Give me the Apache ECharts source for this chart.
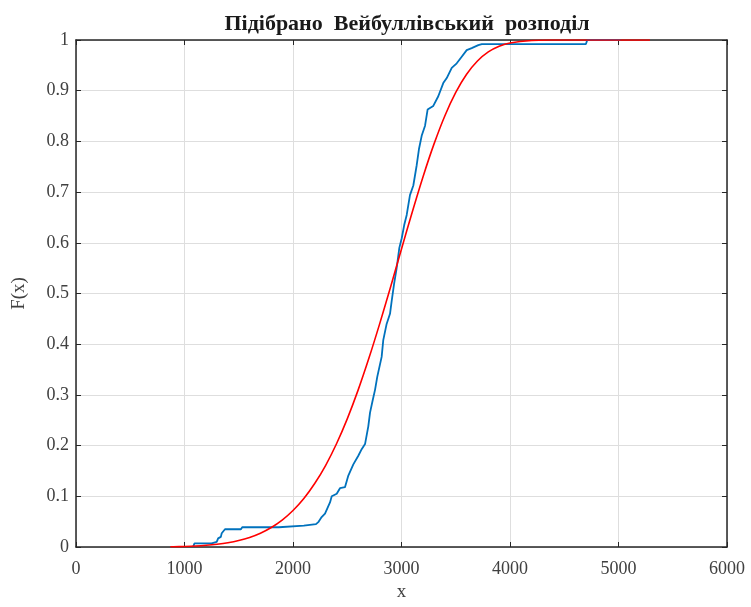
<!DOCTYPE html>
<html>
<head>
<meta charset="utf-8">
<script src="https://cdn.jsdelivr.net/npm/echarts@6/dist/echarts.min.js"></script>
<style>
  html, body { margin: 0; padding: 0; background: #fff; overflow: hidden; }
  #chart { width: 751px; height: 607px; }
</style>
</head>
<body>
<div id="chart"></div>
<script>
// Empirical CDF outline (x, F)
const empX = [1078, 1092, 1250, 1262, 1297, 1310, 1335, 1343, 1373, 1520, 1532, 1870, 1882, 2100, 2112, 2212, 2233, 2264, 2295, 2341, 2357, 2403, 2433, 2479, 2510, 2556, 2602, 2633, 2664, 2694, 2710, 2735, 2756, 2777, 2817, 2832, 2863, 2894, 2910, 2931, 2956, 2980, 3002, 3025, 3048, 3078, 3109, 3140, 3161, 3186, 3217, 3241, 3270, 3293, 3339, 3385, 3417, 3463, 3509, 3555, 3601, 3647, 3708, 3740, 4700, 4712, 5020];
const empF = [0, 0.007, 0.007, 0.010, 0.010, 0.017, 0.020, 0.027, 0.035, 0.035, 0.039, 0.039, 0.042, 0.042, 0.045, 0.045, 0.049, 0.059, 0.066, 0.088, 0.100, 0.105, 0.116, 0.118, 0.141, 0.163, 0.180, 0.193, 0.203, 0.238, 0.265, 0.290, 0.310, 0.336, 0.375, 0.408, 0.440, 0.460, 0.486, 0.518, 0.551, 0.590, 0.609, 0.635, 0.655, 0.694, 0.713, 0.753, 0.785, 0.811, 0.831, 0.863, 0.867, 0.870, 0.889, 0.915, 0.925, 0.945, 0.954, 0.967, 0.980, 0.984, 0.990, 0.992, 0.992, 1.0, 1.0];

// Fitted Weibull CDF (x, F)
const fitX = [870, 900, 1000, 1100, 1200, 1300, 1400, 1500, 1600, 1700, 1800, 1900, 2000, 2100, 2200, 2300, 2400, 2500, 2600, 2700, 2800, 2900, 3000, 3100, 3200, 3300, 3400, 3500, 3600, 3700, 3800, 3900, 4000, 4200, 4400, 4600, 5000, 5290];
const fitF = [0.0005, 0.0006, 0.0011, 0.0019, 0.0033, 0.0054, 0.0084, 0.0128, 0.0189, 0.0273, 0.0385, 0.0531, 0.0720, 0.0957, 0.1252, 0.1607, 0.2032, 0.2528, 0.3094, 0.3726, 0.4411, 0.5135, 0.5878, 0.6613, 0.7314, 0.7951, 0.8507, 0.8967, 0.9325, 0.9586, 0.9765, 0.9876, 0.9941, 0.9990, 0.9999, 1.0, 1.0, 1.0];

const xTicks = [0, 1000, 2000, 3000, 4000, 5000, 6000];
const yTicks = [0, 0.1, 0.2, 0.3, 0.4, 0.5, 0.6, 0.7, 0.8, 0.9, 1];

const titleText = 'Підібрано  Вейбуллівський  розподіл';
const xName = 'x';
const yName = 'F(x)';

const FONT = '"Liberation Serif", "DejaVu Serif", serif';
const AXIS_COLOR = '#262626';
const LABEL_COLOR = '#404040';

const pairs = (xs, ys) => xs.map((x, i) => [x, ys[i]]);
const tickText = list => v => {
  const t = list.find(k => Math.abs(k - v) < 1e-9);
  return t === undefined ? '' : String(t);
};

const chart = echarts.init(document.getElementById('chart'), null, { renderer: 'canvas', width: 751, height: 607 });

const tickStyle = { show: true, inside: true, length: 5, lineStyle: { color: AXIS_COLOR, width: 1 } };

chart.setOption({
  animation: false,
  backgroundColor: '#ffffff',
  title: {
    text: titleText,
    left: 402,
    textAlign: 'center',
    top: 8,
    textStyle: { fontFamily: FONT, fontSize: 22, fontWeight: 'bold', color: '#1a1a1a' }
  },
  grid: { left: 76, top: 40, width: 651, height: 512, containLabel: false },
  xAxis: [
    {
      type: 'value', min: xTicks[0], max: xTicks[xTicks.length - 1], interval: 1000,
      name: xName, nameLocation: 'middle', nameGap: 36,
      nameTextStyle: { fontFamily: FONT, fontSize: 19, color: LABEL_COLOR },
      axisLine: { show: true, onZero: false, lineStyle: { color: AXIS_COLOR, width: 1.5 } },
      axisTick: tickStyle,
      axisLabel: { fontFamily: FONT, fontSize: 18, color: LABEL_COLOR, margin: 13, formatter: tickText(xTicks) },
      splitLine: { show: true, lineStyle: { color: '#dedede', width: 1 } }
    },
    {
      type: 'value', position: 'top', min: xTicks[0], max: xTicks[xTicks.length - 1], interval: 1000,
      axisLine: { show: true, onZero: false, lineStyle: { color: AXIS_COLOR, width: 1.5 } },
      axisTick: tickStyle, axisLabel: { show: false }, splitLine: { show: false }
    }
  ],
  yAxis: [
    {
      type: 'value', min: 0, max: 1, interval: 0.1,
      name: yName, nameLocation: 'middle', nameGap: 47, nameRotate: 90,
      nameTextStyle: { fontFamily: FONT, fontSize: 19, color: LABEL_COLOR },
      axisLine: { show: true, onZero: false, lineStyle: { color: AXIS_COLOR, width: 1.5 } },
      axisTick: tickStyle,
      axisLabel: { fontFamily: FONT, fontSize: 18, color: LABEL_COLOR, margin: 7, formatter: tickText(yTicks) },
      splitLine: { show: true, lineStyle: { color: '#dedede', width: 1 } }
    },
    {
      type: 'value', position: 'right', min: 0, max: 1, interval: 0.1,
      axisLine: { show: true, onZero: false, lineStyle: { color: AXIS_COLOR, width: 1.5 } },
      axisTick: tickStyle, axisLabel: { show: false }, splitLine: { show: false }
    }
  ],
  series: [
    {
      name: 'empirical',
      type: 'line',
      data: pairs(empX, empF),
      showSymbol: false,
      lineStyle: { color: '#0072BD', width: 1.8 },
      z: 3
    },
    {
      name: 'weibull',
      type: 'line',
      smooth: 0.3,
      data: pairs(fitX, fitF),
      showSymbol: false,
      lineStyle: { color: '#ff0000', width: 1.6 },
      z: 4
    }
  ]
});
</script>
</body>
</html>
